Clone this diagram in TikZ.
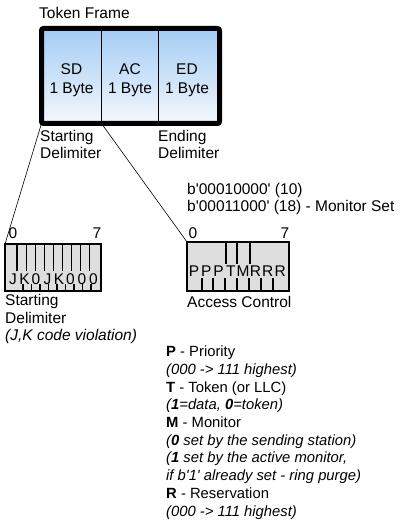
\documentclass[tikz,border=0pt]{standalone}
\usepackage{fontspec}
\setmainfont{Liberation Sans}
\usetikzlibrary{positioning}
\definecolor{frametop}{RGB}{164, 204, 244}
\definecolor{framebot}{RGB}{243, 248, 253}
\definecolor{bitfill}{RGB}{222, 222, 222}
\newcommand{\aq}{\textquotesingle}

\begin{document}
\begin{tikzpicture}[x=1pt, y=-1pt, font=\fontsize{15.5}{17.5}\selectfont,
    compart/.style={draw, line width=0.8pt, minimum height=95pt,
      inner sep=0pt, outer sep=0pt, top color=frametop, bottom color=framebot},
    comptext/.style={align=center, inner sep=0pt, font=\fontsize{15.5}{19}\selectfont},
    bitbox/.style={draw, fill=bitfill, inner sep=0pt, outer sep=0pt},
    lbl/.style={anchor=west, inner sep=0pt, align=left},
    bit/.style={inner sep=0pt},
    tick/.style={line width=1.2pt}]
  \useasboundingbox (0, 0) rectangle (404, 521);

  % token frame
  \node[lbl] (title) at (39, 13) {Token Frame};
  \node[compart, minimum width=60pt] (sd) at (71.5, 76) {};
  \node[compart, minimum width=57pt, right=0pt of sd] (ac) {};
  \node[compart, minimum width=61pt, right=0pt of ac] (ed) {};
  \draw[line width=5pt, rounded corners=2pt] (sd.north west) rectangle (ed.south east);
  \node[comptext] (sdlabel) at ([yshift=-4.5pt]sd.center) {SD\\1 Byte};
  \node[comptext] (aclabel) at ([yshift=-4.5pt]ac.center) {AC\\1 Byte};
  \node[comptext] (edlabel) at ([xshift=-2pt, yshift=-4.5pt]ed.center) {ED\\1 Byte};
  \node[lbl] (sdname) at (40, 144.5) {Starting\\Delimiter};
  \node[lbl] (edname) at (158, 144.5) {Ending\\Delimiter};

  % starting delimiter bits
  \node[bitbox, line width=1.6pt, minimum width=96pt, minimum height=47pt] (sdbits) at (53, 267.5) {};
  \foreach \i in {0,...,8} {
    \draw[tick] (17 + 9.1*\i, 244) -- ++(0, 27);
    \draw[tick] (23 + 8.5*\i, 284) -- ++(0, 7);
  }
  \foreach \b [count=\n from 0] in {J,K,0,J,K,0,0,0} {
    \node[bit] (sdb\n) at (13 + 11.5*\n, 279) {\b};
  }
  \node[bit] (sdlo) at (13, 233) {0};
  \node[bit] (sdhi) at (97, 233) {7};
  \node[lbl] (sdtext) at (5, 319) {Starting\\Delimiter\\\textit{(J,K code violation)}};

  % access control bits
  \node[lbl] (codes) at (187, 199) {b\aq 00010000\aq{} (10)\\b\aq 00011000\aq{} (18) - Monitor Set};
  \node[bitbox, line width=2.6pt, minimum width=102pt, minimum height=49pt] (acbits) at (238, 266.5) {};
  \foreach \x in {226, 237, 250} {
    \draw[tick] (\x, 243) -- (\x, 264);
  }
  \foreach \x in {202, 213, 225, 237, 249, 261, 273} {
    \draw[tick] (\x, 278) -- (\x, 290);
  }
  \foreach \b [count=\n from 0] in {P,P,P,T,M,R,R,R} {
    \node[bit] (acb\n) at (194 + 12.3*\n, 271) {\b};
  }
  \node[bit] (aclo) at (193, 233) {0};
  \node[bit] (achi) at (285, 233) {7};
  \node[lbl] (actext) at (187, 302) {Access Control};

  \draw[line width=0.6pt] (sd.south west) -- (sdbits.north west);
  \draw[line width=0.6pt] (sd.south east) -- (acbits.north west);

  % legend
  \node[lbl, font=\fontsize{14.8}{17.7}\selectfont] (legend) at (166, 432.6) {\textbf{P} - Priority\\
    \textit{(000 -> 111 highest)}\\
    \textbf{T} - Token (or LLC)\\
    \textit{(\textbf{1}=data, \textbf{0}=token)}\\
    \textbf{M} - Monitor\\
    \textit{(\textbf{0} set by the sending station)}\\
    \textit{(\textbf{1} set by the active monitor,}\\
    \textit{if b\aq 1\aq{} already set - ring purge)}\\
    \textbf{R} - Reservation\\
    \textit{(000 -> 111 highest)}};
\end{tikzpicture}
\end{document}
